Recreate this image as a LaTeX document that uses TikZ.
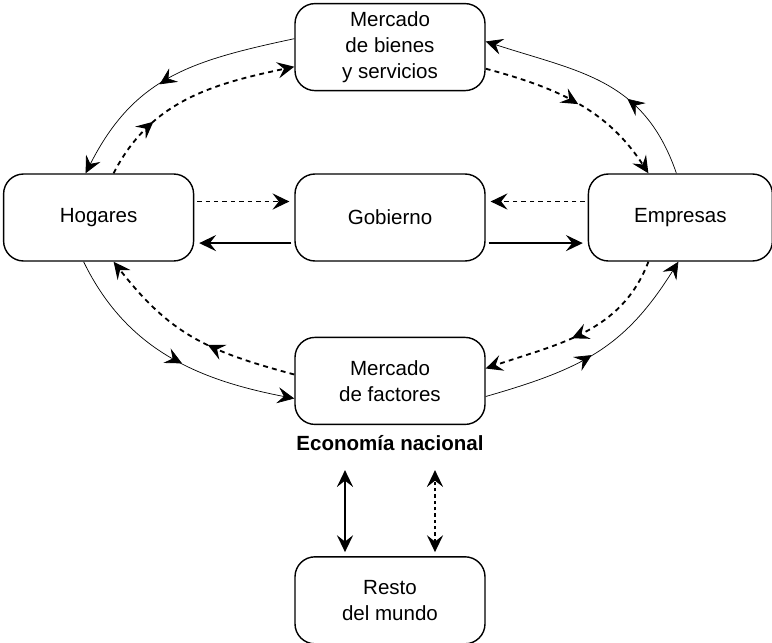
\documentclass[tikz,border=0pt]{standalone}
\usepackage{fontspec}
\setmainfont{Liberation Sans}
\usetikzlibrary{arrows.meta,positioning,decorations.markings}

\begin{document}
\begin{tikzpicture}[
    % --- STYLES ---
    block/.style={
        rectangle, rounded corners=0.5cm,
        draw=black, line width=1pt, fill=white,
        minimum width=4.75cm,
        minimum height=2.175cm,
        align=center, font=\fontsize{14.6}{18.4}\selectfont,
        inner sep=2pt
    },
    >={Stealth[length=12pt, width=11.5pt, inset=4.5pt]},
    flow/.style={->, line width=1pt, shorten <=2pt, shorten >=3.5pt},
    flowdash/.style={flow, line width=0.9pt, dash pattern=on 3.2pt off 2.8pt},
    loop/.style={->, line width=0.5pt},
    loopdash/.style={->, line width=1.3pt, dash pattern=on 3.5pt off 3pt},
    midarrow/.style={postaction={decorate},
        decoration={markings, mark=at position #1 with
            {\arrow{Stealth[length=12pt, width=11.5pt, inset=4.5pt]}}}}
]
\useasboundingbox (0,0) rectangle (19.3,-16.075);

% ===== 1. NODES =====
\node[block] (gob) at (9.75,-5.4375) {Gobierno};
\node[block, left=2.5cm of gob] (hog) {Hogares};
\node[block, right=2.55cm of gob, minimum width=4.6cm] (emp) {Empresas};
\node[block, above=2.05cm of gob] (mbs) {Mercado\\ de bienes\\ y servicios};
\node[block, below=1.875cm of gob] (mfa) {Mercado\\ de factores};
\node[font=\bfseries\fontsize{14.6}{18.4}\selectfont, inner sep=0pt,
      below=0.25cm of mfa] (eco) {Economía nacional};
\node[block, below=3.275cm of mfa] (rdm) {Resto\\ del mundo};

% ===== 2. GOBIERNO =====
\draw[flowdash] ([yshift=0.4cm]hog.east) -- ([yshift=0.4cm]gob.west);
\draw[flow] ([yshift=-0.64cm]gob.west) -- ([yshift=-0.64cm]hog.east);
\draw[flowdash] ([yshift=0.4cm]emp.west) -- ([yshift=0.4cm]gob.east);
\draw[flow] ([yshift=-0.64cm]gob.east) -- ([yshift=-0.64cm]emp.west);

% ===== 3. MERCADO DE BIENES Y SERVICIOS =====
\draw[loop, midarrow=0.55] ([yshift=0.21cm]mbs.west)
    to[out=192, in=63, looseness=1.1] ([xshift=-0.325cm]hog.north);
\draw[loopdash, midarrow=0.3] ([xshift=0.375cm]hog.north)
    to[out=63, in=192] ([yshift=-0.49cm]mbs.west);
\draw[loop, midarrow=0.37] ([xshift=-0.1cm]emp.north)
    to[out=109, in=342, looseness=1.1] ([yshift=0.14cm]mbs.east);
\draw[loopdash, midarrow=0.5] ([yshift=-0.54cm]mbs.east)
    to[out=-15, in=123] ([xshift=-0.8cm]emp.north);

% ===== 4. MERCADO DE FACTORES =====
\draw[loop, midarrow=0.55] ([xshift=-0.375cm]hog.south)
    to[out=-64, in=169] ([yshift=-0.44cm]mfa.west);
\draw[loopdash, midarrow=0.42] ([yshift=0.16cm]mfa.west)
    to[out=165, in=-52, looseness=1.1] ([xshift=0.375cm]hog.south);
\draw[loop, midarrow=0.47] ([yshift=-0.39cm]mfa.east)
    to[out=16, in=238, looseness=1.1] ([xshift=-0.05cm]emp.south);
\draw[loopdash, midarrow=0.55] ([xshift=-0.8cm]emp.south)
    to[out=249, in=19] ([yshift=0.31cm]mfa.east);

% ===== 5. RESTO DEL MUNDO =====
\draw[<->, line width=1pt] ([xshift=-1.125cm, yshift=0.1cm]rdm.north)
    -- ([xshift=-1.125cm, yshift=2.15cm]rdm.north);
\draw[<->, line width=0.9pt, dash pattern=on 2.5pt off 2pt]
    ([xshift=1.125cm, yshift=0.1cm]rdm.north)
    -- ([xshift=1.125cm, yshift=2.15cm]rdm.north);

\end{tikzpicture}
\end{document}
